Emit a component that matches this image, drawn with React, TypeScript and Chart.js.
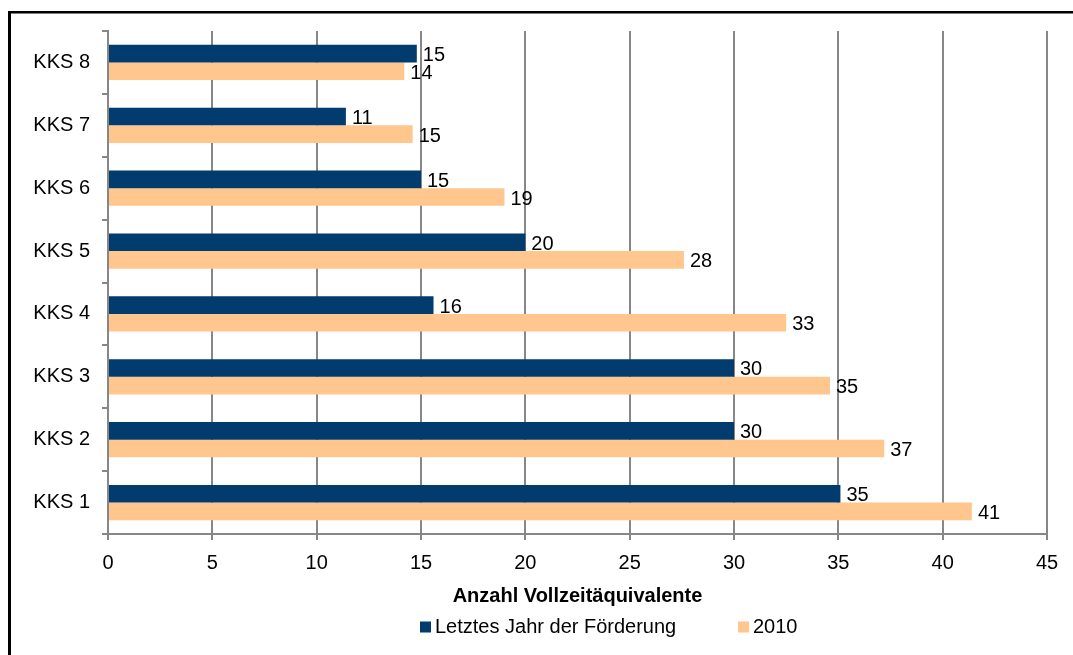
import React, { useEffect, useRef } from "react";
import { Chart, registerables } from "chart.js";

Chart.register(...registerables);

const categories = ["KKS 8", "KKS 7", "KKS 6", "KKS 5", "KKS 4", "KKS 3", "KKS 2", "KKS 1"];
const seriesNames = ["Letztes Jahr der Förderung", "2010"];
const lastYearValues = [14.8, 11.4, 15.0, 20.0, 15.6, 30.0, 30.0, 35.1];
const values2010 = [14.2, 14.6, 19.0, 27.6, 32.5, 34.6, 37.2, 41.4];
const xTicks = [0, 5, 10, 15, 20, 25, 30, 35, 40, 45];

const DARK = "#023B6D";
const ORANGE = "#FFC68D";
const GRID = "#878787";
const FONT = "'Liberation Sans', Arial, sans-serif";
const FS = 20;

const labelPlugin = {
  id: "valueLabels",
  afterDatasetsDraw(chart: any) {
    const ctx = chart.ctx;
    ctx.save();
    ctx.font = `${FS}px ${FONT}`;
    ctx.fillStyle = "#000";
    ctx.textAlign = "left";
    ctx.textBaseline = "middle";
    chart.data.datasets.forEach((ds: any, i: number) => {
      const meta = chart.getDatasetMeta(i);
      meta.data.forEach((bar: any, j: number) => {
        const v = ds.data[j];
        ctx.fillText(String(Math.round(v)), bar.x + 6, bar.y + 2);
      });
    });
    ctx.restore();
  },
  afterDraw(chart: any) {
    const ctx = chart.ctx;
    ctx.save();
    ctx.font = `${FS}px ${FONT}`;
    ctx.textAlign = "left";
    ctx.textBaseline = "middle";
    const positions = [420, 738];
    const y = 627;
    chart.data.datasets.forEach((ds: any, i: number) => {
      const x = positions[i];
      ctx.fillStyle = ds.backgroundColor;
      ctx.fillRect(x, y - 5.5, 11, 11);
      ctx.fillStyle = "#000";
      ctx.fillText(ds.label, x + 15, y);
    });
    ctx.fillStyle = "#000";
    ctx.fillRect(8, 11, 3, 700);
    ctx.fillRect(8, 11, 1100, 2.5);
    ctx.restore();
  },
};

export default function App() {
  const ref = useRef<HTMLCanvasElement | null>(null);
  useEffect(() => {
    if (!ref.current) return;
    const chart = new Chart(ref.current, {
      type: "bar",
      data: {
        labels: categories,
        datasets: [
          { label: seriesNames[0], data: lastYearValues, backgroundColor: DARK, categoryPercentage: 0.5625, barPercentage: 1 },
          { label: seriesNames[1], data: values2010, backgroundColor: ORANGE, categoryPercentage: 0.5625, barPercentage: 1 },
        ],
      },
      options: {
        indexAxis: "y",
        responsive: false,
        animation: false,
        devicePixelRatio: 1,
        layout: { padding: { left: 0, right: 26, top: 31, bottom: 40 } },
        plugins: { legend: { display: false }, tooltip: { enabled: false } },
        scales: {
          x: {
            min: 0,
            max: 45,
            afterBuildTicks: (scale: any) => {
              scale.ticks = xTicks.map((v) => ({ value: v }));
            },
            afterFit: (scale: any) => {
              scale.height = 81;
            },
            grid: { color: GRID, lineWidth: 2, tickLength: 6, tickColor: GRID, drawTicks: true },
            border: { display: true, color: GRID, width: 2 },
            ticks: { color: "#000", font: { size: FS, family: FONT }, padding: 11, maxRotation: 0 },
            title: {
              display: true,
              text: "Anzahl Vollzeitäquivalente",
              color: "#000",
              font: { size: FS, family: FONT, weight: "bold" },
              padding: { top: 0, bottom: 7 },
            },
          },
          y: {
            afterFit: (scale: any) => {
              scale.width = 108;
            },
            grid: { drawOnChartArea: false, offset: true, tickLength: 6, color: GRID, lineWidth: 2 },
            border: { display: true, color: GRID, width: 2 },
            ticks: { color: "#000", font: { size: FS, family: FONT }, padding: 12 },
          },
        },
      },
      plugins: [labelPlugin],
    } as any);
    return () => chart.destroy();
  }, []);
  return (
    <div style={{ position: "absolute", left: 0, top: 0, width: 1073, height: 655, background: "#fff" }}>
      <canvas ref={ref} width={1073} height={655} style={{ display: "block", width: 1073, height: 655 }} />
    </div>
  );
}
